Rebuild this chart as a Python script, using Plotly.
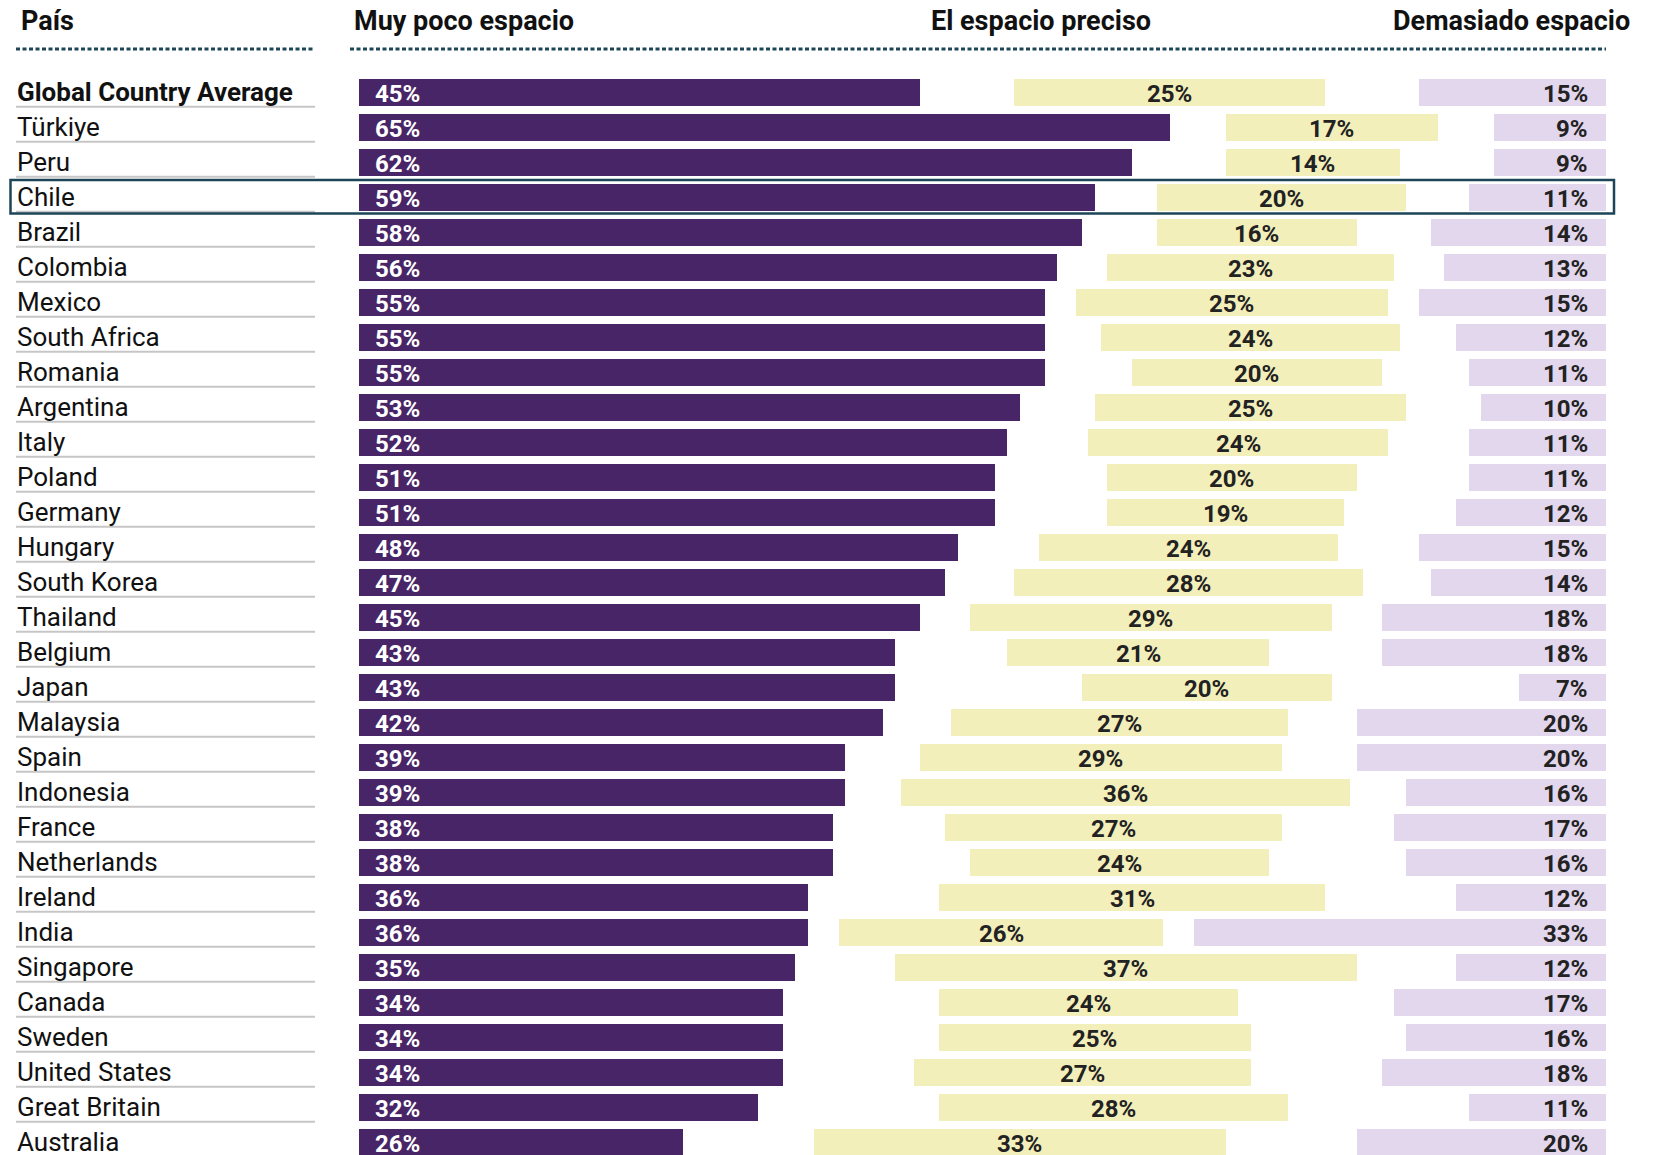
import plotly.graph_objects as go

# Values
paises = ["Global Country Average", "Türkiye", "Peru", "Chile", "Brazil", "Colombia",
          "Mexico", "South Africa", "Romania", "Argentina", "Italy", "Poland", "Germany",
          "Hungary", "South Korea", "Thailand", "Belgium", "Japan", "Malaysia", "Spain",
          "Indonesia", "France", "Netherlands", "Ireland", "India", "Singapore", "Canada",
          "Sweden", "United States", "Great Britain", "Australia"]
muy_poco = [45, 65, 62, 59, 58, 56, 55, 55, 55, 53, 52, 51, 51, 48, 47, 45, 43, 43, 42, 39,
            39, 38, 38, 36, 36, 35, 34, 34, 34, 32, 26]
preciso = [25, 17, 14, 20, 16, 23, 25, 24, 20, 25, 24, 20, 19, 24, 28, 29, 21, 20, 27, 29,
           36, 27, 24, 31, 26, 37, 24, 25, 27, 28, 33]
demasiado = [15, 9, 9, 11, 14, 13, 15, 12, 11, 10, 11, 11, 12, 15, 14, 18, 18, 7, 20, 20,
             16, 17, 16, 12, 33, 12, 17, 16, 18, 11, 20]
destacado = "Chile"

# page body has an 8px margin, so the figure is drawn 8px smaller and everything shifted
OFF = 8
W, H = 1656 - OFF, 1155 - OFF
PURPLE = "#472566"
YELLOW = "#f3efbb"
LILAC = "#e3d7ee"
TEAL = "#1c4557"
FONT = "Roboto"


def px(v):
    return v - OFF


n = len(paises)
filas = list(range(n))
# the rest (no answer) is split evenly on both sides of the middle bar
hueco = [(100 - a - b - c) / 2 for a, b, c in zip(muy_poco, preciso, demasiado)]

# pixel geometry (window coords)
x0_px, x100_px = px(359), px(1606)
ppu = (x100_px - x0_px) / 100
row0_px, pitch = px(92.5), 35

fig = go.Figure()
for vals, col in [(muy_poco, PURPLE), (hueco, "rgba(0,0,0,0)"), (preciso, YELLOW),
                  (hueco, "rgba(0,0,0,0)"), (demasiado, LILAC)]:
    fig.add_trace(go.Bar(y=filas, x=vals, orientation="h", width=0.77,
                         marker=dict(color=col, line=dict(width=0)),
                         hoverinfo="skip", showlegend=False))

ann = []
shapes = []
for i, p in enumerate(paises):
    bold = i == 0
    ann.append(dict(x=px(15) / W, xref="paper", y=i, yref="y", xanchor="left",
                    yanchor="middle", yshift=1, showarrow=False,
                    text=f"<b>{p}</b>" if bold else p,
                    font=dict(family=FONT, size=26, color="#111")))
    ann.append(dict(x=0, y=i, xanchor="left", yanchor="middle", xshift=14, yshift=-1,
                    showarrow=False, text=f"<b>{muy_poco[i]}%</b>",
                    font=dict(family=FONT, size=24, color="white")))
    ann.append(dict(x=muy_poco[i] + hueco[i] + preciso[i] / 2, y=i, xanchor="center",
                    yanchor="middle", yshift=-1, showarrow=False,
                    text=f"<b>{preciso[i]}%</b>",
                    font=dict(family=FONT, size=24, color="#222")))
    ann.append(dict(x=100, y=i, xanchor="right", yanchor="middle", xshift=-16, yshift=-1,
                    showarrow=False, text=f"<b>{demasiado[i]}%</b>",
                    font=dict(family=FONT, size=24, color="#222")))
    shapes.append(dict(type="line", xref="paper", x0=px(16) / W, x1=px(315) / W, yref="y",
                       y0=i + 0.41, y1=i + 0.41, line=dict(color="#c6c6c6", width=2)))

# header
hy = 1 - px(21) / H
for txt, x, anchor in [("País", 19, "left"), ("Muy poco espacio", 352, "left"),
                       ("El espacio preciso", 1041, "center"),
                       ("Demasiado espacio", 1632, "right")]:
    ann.append(dict(x=px(x) / W, y=hy, xref="paper", yref="paper", xanchor=anchor,
                    yanchor="middle", showarrow=False, text=f"<b>{txt}</b>",
                    font=dict(family=FONT, size=27, color="#111")))

ly = 1 - px(49) / H
for a, b in [(16, 315), (350, 1606)]:
    shapes.append(dict(type="line", xref="paper", yref="paper", x0=px(a) / W, x1=px(b) / W,
                       y0=ly, y1=ly, line=dict(color=TEAL, width=3, dash="4px,2.5px")))

# highlight box
k = paises.index(destacado)
shapes.append(dict(type="rect", xref="paper", x0=px(10.5) / W, x1=px(1614) / W, yref="y",
                   y0=k - 17.5 / pitch, y1=k + 16 / pitch,
                   line=dict(color=TEAL, width=2.5), fillcolor="rgba(0,0,0,0)"))

fig.update_layout(
    barmode="stack",
    width=W, height=H,
    margin=dict(l=0, r=0, t=0, b=0),
    plot_bgcolor="white", paper_bgcolor="white",
    xaxis=dict(visible=False, range=[-x0_px / ppu, (W - x0_px) / ppu], fixedrange=True),
    yaxis=dict(visible=False, range=[(H - row0_px) / pitch, -row0_px / pitch],
               fixedrange=True),
    annotations=ann, shapes=shapes,
    font=dict(family=FONT),
)

fig.write_html("out.html")
